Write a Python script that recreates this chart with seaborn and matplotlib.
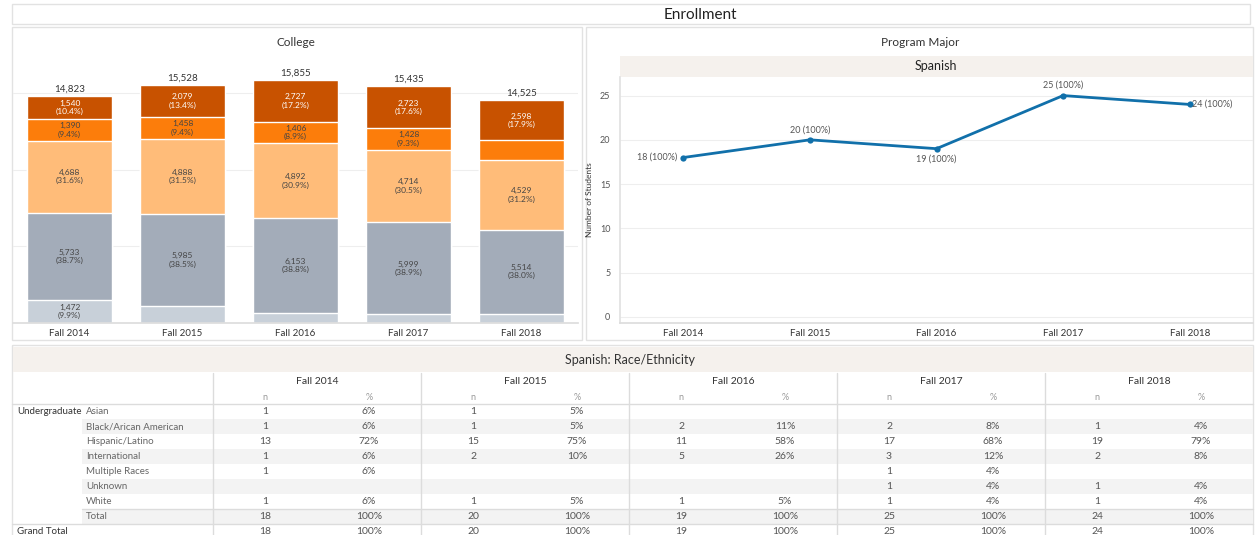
import numpy as np
import pandas as pd
import matplotlib.pyplot as plt
from matplotlib.patches import Rectangle
import seaborn as sns

sns.set_theme(style="white")
plt.rcParams["font.family"] = ["Lato", "DejaVu Sans"]

# ---------------- data ----------------
years = ["Fall 2014", "Fall 2015", "Fall 2016", "Fall 2017", "Fall 2018"]

# college enrollment segments, bottom to top
seg_lightgray = [1472, 1118, 677, 571, 584]
seg_gray = [5733, 5985, 6153, 5999, 5514]
seg_lightorange = [4688, 4888, 4892, 4714, 4529]
seg_orange = [1390, 1458, 1406, 1428, 1300]
seg_darkorange = [1540, 2079, 2727, 2723, 2598]

# spanish majors per year
spanish_counts = [18, 20, 19, 25, 24]

# race/ethnicity table (None = blank cell)
races = ["Asian", "Black/Arican American", "Hispanic/Latino", "International",
         "Multiple Races", "Unknown", "White"]
n_2014 = [1, 1, 13, 1, 1, None, 1]
n_2015 = [1, 1, 15, 2, None, None, 1]
n_2016 = [None, 2, 11, 5, None, None, 1]
n_2017 = [None, 2, 17, 3, 1, 1, 1]
n_2018 = [None, 1, 19, 2, None, 1, 1]
table_cols = [n_2014, n_2015, n_2016, n_2017, n_2018]

# ---------------- figure ----------------
W, H = 1257, 535
fig = plt.figure(figsize=(W / 100, H / 100), dpi=100)


def px_axes(x0, y0, x1, y1):
    return fig.add_axes([x0 / W, 1 - y1 / H, (x1 - x0) / W, (y1 - y0) / H])


bg = px_axes(0, 0, W, H)
bg.set_xlim(0, W)
bg.set_ylim(H, 0)
bg.axis("off")

# panel boxes
for x0, y0, x1, y1 in [(12, 4, 1250, 24), (12, 27, 582, 340),
                       (586, 27, 1253, 340), (12, 345, 1253, 545)]:
    bg.add_patch(Rectangle((x0, y0), x1 - x0, y1 - y0, fill=False,
                           edgecolor="#e2e2e2", lw=1))

bg.text(700, 15, "Enrollment", ha="center", va="center", fontsize=11, color="#222222")
bg.text(296, 42, "College", ha="center", va="center", fontsize=8.5, color="#333333")
bg.text(920, 42, "Program Major", ha="center", va="center", fontsize=8.5, color="#333333")

beige = "#f5f1ed"
bg.add_patch(Rectangle((620, 56), 633, 21, color=beige, lw=0))
bg.text(936, 66, "Spanish", ha="center", va="center", fontsize=9, color="#222222")

# ---------------- stacked bars (College) ----------------
bar_ax = px_axes(13, 55, 578, 323)
bar_ax.set_facecolor("none")
layers = [seg_lightgray, seg_gray, seg_lightorange, seg_orange, seg_darkorange]
layer_colors = ["#c8d0d9", "#a3acb9", "#ffbc79", "#fc7d0b", "#c85200"]
cum = np.cumsum(np.array(layers), axis=0)
totals = cum[-1]

for i in reversed(range(len(layers))):
    sns.barplot(x=years, y=cum[i], color=layer_colors[i], width=0.75,
                saturation=1, errorbar=None, ax=bar_ax, zorder=2)

for j in range(len(years)):
    bar_ax.text(j, totals[j] + 150, f"{totals[j]:,}", ha="center", va="bottom",
                fontsize=7, color="#333333")
    for i, seg in enumerate(layers):
        val = seg[j]
        if val < 1350:
            continue
        mid = cum[i][j] - val / 2
        bar_ax.text(j, mid, f"{val:,}\n({val / totals[j] * 100:.1f}%)",
                    ha="center", va="center", fontsize=6, linespacing=1.2,
                    color="white" if i == 4 else "#444444", zorder=3)

bar_ax.set_xlim(-0.5, 4.5)
bar_ax.set_ylim(0, 17480)
bar_ax.set_yticks([5000, 10000, 15000])
bar_ax.set_yticklabels([])
bar_ax.grid(axis="y", color="#eeeeee", lw=0.8, zorder=0)
bar_ax.set_xticks([0.5, 1.5, 2.5, 3.5], minor=True)
bar_ax.tick_params(axis="x", which="major", length=0, labelsize=7, labelcolor="#333333", pad=4)
bar_ax.tick_params(axis="x", which="minor", length=4, color="#e5e5e5", width=0.8)
bar_ax.tick_params(axis="y", length=0)
for s in ["top", "right", "left"]:
    bar_ax.spines[s].set_visible(False)
bar_ax.spines["bottom"].set_color("#dddddd")
bar_ax.set_xlabel("")
bar_ax.set_ylabel("")

# ---------------- line chart (Spanish) ----------------
ln_ax = px_axes(620, 77, 1253, 323)
ln_ax.set_facecolor("none")
line_df = pd.DataFrame({"pos": np.arange(len(years)), "count": spanish_counts})
sns.lineplot(data=line_df, x="pos", y="count", marker="o", markersize=4.5,
             markeredgewidth=0, color="#1170aa", linewidth=2, ax=ln_ax, zorder=3)

label_style = [((-4, 0), "right", "center"), ((0, 4), "center", "bottom"),
               ((0, -4), "center", "top"), ((0, 4), "center", "bottom"),
               ((2, 0), "left", "center")]
for j, c in enumerate(spanish_counts):
    off, ha, va = label_style[j]
    ln_ax.annotate(f"{c} (100%)", (j, c), xytext=off, textcoords="offset points",
                   ha=ha, va=va, fontsize=6.5, color="#555555")

ln_ax.set_xlim(-0.5, 4.5)
ln_ax.set_ylim(-0.7, 27.1)
ln_ax.set_xticks(range(len(years)))
ln_ax.set_xticklabels(years)
ln_ax.set_yticks([0, 5, 10, 15, 20, 25])
ln_ax.set_xticks([0.5, 1.5, 2.5, 3.5], minor=True)
ln_ax.grid(axis="y", color="#eeeeee", lw=0.8, zorder=0)
ln_ax.tick_params(axis="x", which="major", length=0, labelsize=7, labelcolor="#333333", pad=4)
ln_ax.tick_params(axis="x", which="minor", length=4, color="#e5e5e5", width=0.8)
ln_ax.tick_params(axis="y", length=0, labelsize=6.5, labelcolor="#555555", pad=7)
for s in ["top", "right"]:
    ln_ax.spines[s].set_visible(False)
ln_ax.spines["left"].set_color("#e2e2e2")
ln_ax.spines["bottom"].set_color("#dddddd")
ln_ax.set_xlabel("")
ln_ax.set_ylabel("Number of Students", fontsize=6, color="#333333", labelpad=5)

# ---------------- table (Spanish: Race/Ethnicity) ----------------
bg.add_patch(Rectangle((13, 347), 1240, 25, color=beige, lw=0))
bg.text(630, 360, "Spanish: Race/Ethnicity", ha="center", va="center",
        fontsize=9, color="#333333")

grp_x0, grp_w = 213, 208
row_y0, row_h = 412, 14.9
line_c = "#dcdcdc"


def row_y(i):
    return row_y0 + row_h * i


# banded rows
for i in [1, 3, 5, 7]:
    bg.add_patch(Rectangle((82, row_y(i) - row_h / 2), 1253 - 82, row_h,
                           color="#f3f3f3", lw=0))
bg.plot([12, 1253], [404, 404], color=line_c, lw=1)
bg.plot([82, 1253], [row_y(7) - row_h / 2] * 2, color=line_c, lw=1)
bg.plot([12, 1253], [row_y(8) - row_h / 2] * 2, color=line_c, lw=1)
for k in range(len(years)):
    bg.plot([grp_x0 + grp_w * k] * 2, [373, 545], color=line_c, lw=1)

# headers
for k, yr in enumerate(years):
    gx = grp_x0 + grp_w * k
    bg.text(gx + grp_w / 2, 381, yr, ha="center", va="center", fontsize=7.5,
            color="#333333")
    bg.text(gx + grp_w / 4, 397, "n", ha="center", va="center", fontsize=6.5, color="#999999")
    bg.text(gx + grp_w * 3 / 4, 397, "%", ha="center", va="center", fontsize=6.5, color="#999999")

# row labels
bg.text(17, row_y(0), "Undergraduate", ha="left", va="center", fontsize=7, color="#333333")
for i, r in enumerate(races + ["Total"]):
    bg.text(86, row_y(i), r, ha="left", va="center", fontsize=7, color="#666666")
bg.text(17, row_y(8), "Grand Total", ha="left", va="center", fontsize=7, color="#333333")

# values
for k, col in enumerate(table_cols):
    gx = grp_x0 + grp_w * k
    tot = sum(v for v in col if v is not None)
    cells = list(col) + [tot, tot]
    for i, v in enumerate(cells):
        if v is None:
            continue
        pct = int(np.floor(v / tot * 100 + 0.5))
        bg.text(gx + grp_w / 4, row_y(i), f"{v}", ha="center", va="center",
                fontsize=7.5, color="#555555")
        bg.text(gx + grp_w * 3 / 4, row_y(i), f"{pct}%", ha="center", va="center",
                fontsize=7.5, color="#555555")

fig.savefig("out.png", dpi=100)
